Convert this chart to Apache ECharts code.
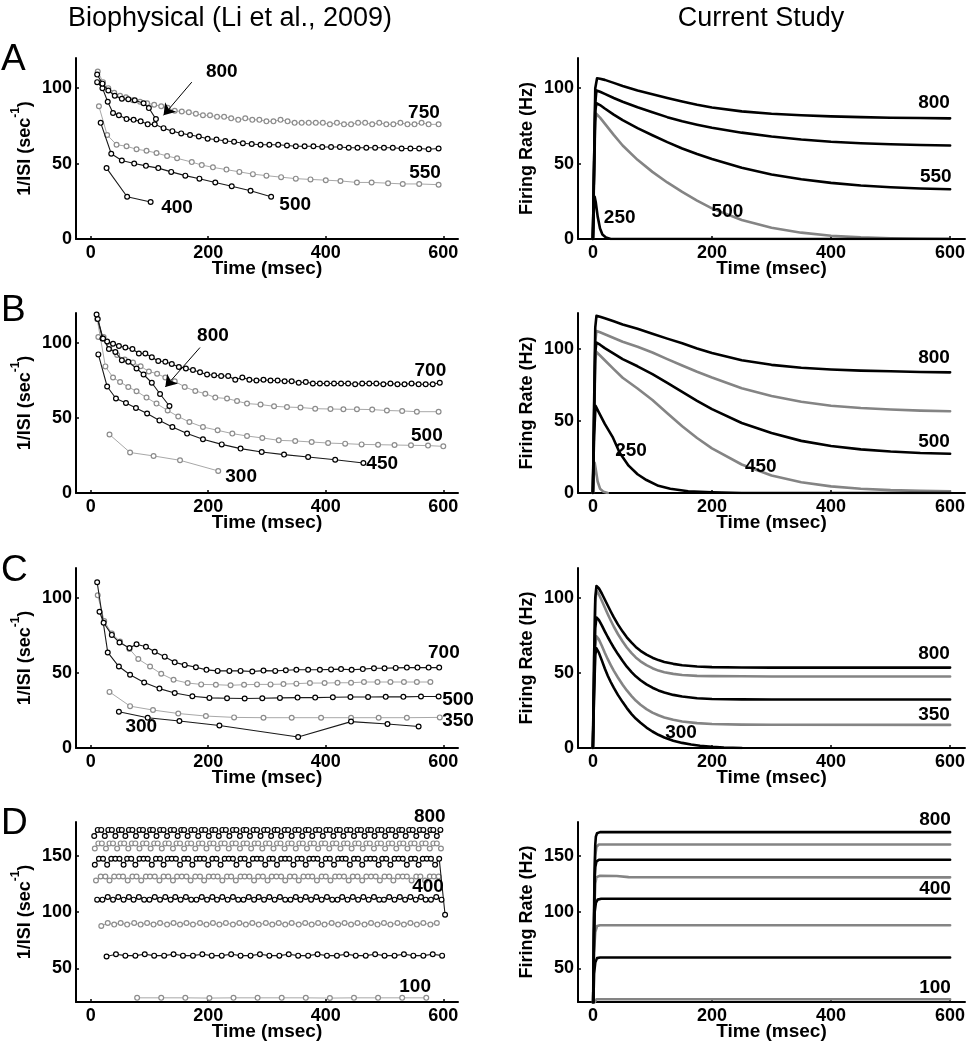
<!DOCTYPE html>
<html><head><meta charset="utf-8">
<script src="https://cdn.jsdelivr.net/npm/echarts@6.0.0/dist/echarts.min.js"></script>
<style>html,body{margin:0;padding:0;background:#fff}#c{width:967px;height:1050px}</style>
</head><body><div id="c"></div>
<script>
// ---------- tick values ----------
const X_TICKS = [0, 200, 400, 600];
const Y_TICKS = [0, 50, 100];
const D_Y_TICKS = [50, 100, 150];

// ---------- Row A, biophysical ----------
const A_L_750 = [[12,111],[21,104],[30,100],[40,97],[50,95],[60,94],[72,92],[84,91],[96,90],[108,89],[120,88],[131,87],[143,85],[155,84.5],[167,84],[179,83],[191,82],[203,82],[215,81],[227,81],[239,80],[251,79],[263,80],[275,79],[287,79],[299,78],[311,78],[323,79],[335,78],[347,77],[359,77],[371,77],[383,77],[395,77],[407,76],[419,77],[431,76],[443,76],[455,77],[467,77],[479,76],[491,77],[503,76],[515,76],[527,77],[539,76],[551,76],[563,77],[575,76],[592,76]];
const A_L_800 = [[11,109],[20,103],[30,98.5],[41,95],[53,93],[64,92.7],[75,92],[90,90],[99,86.8],[111,79.5]];
const A_L_650 = [[11,104],[20,100],[29,91],[38,83.5],[48,82],[61,79.5],[73,79],[85,78],[97,76],[109,76],[124,73.5],[139,71.5],[154,70],[169,69],[184,68],[199,66.5],[214,66],[229,65],[244,64.5],[259,63.5],[274,63],[289,62.5],[304,62.5],[319,62.5],[334,62],[349,61.5],[364,61.5],[379,61.5],[394,61],[409,61],[424,61],[439,60.5],[454,60.5],[469,60.5],[484,60.5],[499,60.5],[514,60.5],[529,60],[544,60],[559,60],[575,59.5],[592,60]];
const A_L_550 = [[14,88],[28,69],[44,62.5],[61,61.5],[78,59.5],[95,58.5],[112,57],[130,55],[147,53.5],[172,51],[189,49],[208,47.5],[231,46],[253,44.5],[276,43],[299,42],[324,41],[349,40],[374,39.5],[400,39],[425,38.5],[453,37.5],[478,37.5],[506,37],[531,36.5],[559,36.5],[592,36]];
const A_L_500 = [[17,77],[35,56.5],[53,52],[74,50],[94,48.5],[115,47],[137,44.5],[161,42],[185,40],[212,37.5],[240,35],[272,32],[307,28]];
const A_L_400 = [[27,47],[62,28],[102,24.5]];
const A_L_LABELS = [[223,110.6,'800'],[567,84,'750'],[569,43.7,'550'],[348,22.5,'500'],[147,21,'400']];
const A_L_ARROW = [[172,104],[124,82]];

// ---------- Row A, current study ----------
const A_R_800 = [[0,0],[2,50],[4,100],[7,106.6],[12,106.3],[20,105.5],[35,103.5],[50,101.5],[75,98.5],[100,96],[125,93.5],[150,91.2],[175,89],[200,87.2],[250,84.6],[300,83],[350,82],[400,81.3],[450,80.8],[500,80.4],[550,80.2],[600,80]];
const A_R_650 = [[0,0],[2,50],[4,90],[6,98.5],[12,97.6],[20,96.2],[35,93.5],[50,91],[75,87.3],[100,84],[125,80.8],[150,78],[175,75.8],[200,73.8],[250,70.5],[300,68],[350,66],[400,64.5],[450,63.5],[500,62.8],[550,62.3],[600,62]];
const A_R_550 = [[0,0],[2,45],[4,85],[6,90],[12,88.8],[20,86.5],[35,82.5],[50,78.8],[75,73.5],[100,68.8],[125,64.2],[150,60],[175,56.3],[200,53],[250,47.2],[300,42.8],[350,39.6],[400,37.2],[450,35.5],[500,34.3],[550,33.5],[600,33]];
const A_R_500 = [[0,0],[2,40],[4,78],[6,83],[12,80.5],[20,76.5],[35,69],[50,62],[75,52.5],[100,44.5],[125,37.5],[150,31.2],[175,25.4],[200,20.3],[250,12.6],[300,7.4],[350,4.2],[400,2.2],[450,1.1],[500,0.5],[550,0.15],[600,0]];
const A_R_250 = [[0,0],[1,12],[2,24],[3,28],[5,24],[8,15],[12,7],[16,3],[22,1],[30,0],[600,0]];
const A_R_LABELS = [[573,90,'800'],[576,41.5,'550'],[226,18.3,'500'],[45,14,'250']];

// ---------- Row B, biophysical ----------
const B_L_800 = [[10,119],[21,103],[31,96],[42,94],[53,88.5],[64,87.5],[78,83],[90,79],[104,73.5],[118,66],[134,58]];
const B_L_700 = [[12,116],[20,103],[28,101],[38,99.5],[48,98],[59,97],[71,96],[82,93],[93,93],[104,90.5],[115,88],[127,87.5],[138,86],[150,84],[162,83],[174,82],[186,80.5],[198,79],[210,78.5],[222,78],[234,78],[246,75.5],[258,77],[270,75.5],[282,75],[294,75.5],[306,75],[318,75],[330,74.5],[342,74.5],[354,73.5],[366,74],[378,73],[390,73],[402,73],[414,73],[426,73],[438,73],[450,72.5],[462,73],[474,73],[486,73],[498,72.5],[510,73],[522,72.5],[534,72.5],[546,73],[558,72.5],[570,72.5],[582,72.5],[594,73.5]];
const B_L_600 = [[13,104],[22,104],[32,98],[45,92],[58,89],[72,87],[85,84.5],[99,81],[113,79.5],[127,77],[143,74.5],[160,70.7],[178,68],[195,66.2],[212,63.6],[232,63],[249,61.3],[266,59.6],[289,59],[312,57.8],[334,57.3],[357,57],[382,56.2],[408,56],[430,55.8],[453,55.8],[479,55.6],[504,55],[530,54.7],[555,54.2],[592,54.2]];
const B_L_500 = [[11,116],[25,84.4],[38,77],[50,74],[64,70.7],[78,67.8],[95,63.6],[112,59.6],[131,55],[149,51],[168,47.3],[191,44],[216,41.8],[241,39.6],[266,38],[292,36.7],[320,35.1],[348,34.7],[376,34],[404,33.3],[433,32.9],[461,32.4],[489,32.2],[517,32],[545,31.8],[574,31.6],[600,31.1]];
const B_L_450 = [[13,92.4],[28,71],[43,63],[60,60],[77,56.7],[96,53],[117,48.4],[139,44],[164,39.6],[191,35.8],[223,32.4],[255,29.6],[291,27.3],[329,25.6],[370,24],[416,22.2],[464,20]];
const B_L_300 = [[32,39],[67,27],[107,24.7],[152,21.8],[217,14.7]];
const B_L_LABELS = [[208,105,'800'],[578,81.8,'700'],[572,38.4,'500'],[496,19.6,'450'],[256,10.7,'300']];
const B_L_ARROW = [[186,97],[127,70.7]];

// ---------- Row B, current study ----------
const B_R_800 = [[0,0],[2,60],[4,115],[6,123],[12,122.4],[20,121.3],[35,119.2],[50,117],[75,114],[100,110.6],[125,107.2],[150,104],[175,100.4],[200,97.2],[250,92.2],[300,89],[350,87],[400,85.8],[450,85],[500,84.5],[550,84],[600,83.8]];
const B_R_700 = [[0,0],[2,55],[4,105],[6,112.5],[12,111.6],[20,110.2],[35,107.6],[50,105],[75,101.6],[100,97.6],[125,93],[150,88.5],[175,84.2],[200,80.2],[250,72.8],[300,67.4],[350,63.4],[400,60.6],[450,59],[500,58],[550,57.2],[600,56.8]];
const B_R_500 = [[0,0],[2,50],[4,98],[6,104.5],[12,103],[20,100.6],[35,96.8],[50,93],[75,88],[100,82.6],[125,76.4],[150,70.2],[175,64],[200,58.2],[250,48.6],[300,41.6],[350,36.2],[400,32.6],[450,30.3],[500,28.8],[550,27.8],[600,27.3]];
const B_R_450 = [[0,0],[2,45],[4,92],[6,98],[12,95.5],[20,92.2],[35,86],[50,80],[75,72.6],[100,64.6],[125,55.4],[150,46.4],[175,38.2],[200,31],[250,19.8],[300,12.2],[350,7.5],[400,4.6],[450,3],[500,2],[550,1.5],[600,1.2]];
const B_R_250 = [[0,0],[2,40],[4.5,60.5],[10,56],[20,48],[33,39],[45,28],[60,19],[75,13],[90,9],[110,5],[130,3],[160,1.2],[200,0.5],[250,0],[600,0]];
const B_R_200 = [[0,0],[1.5,12],[3,21],[5,16],[8,8],[12,3],[18,0.8],[25,0]];
const B_R_LABELS = [[573,93.7,'800'],[573,35.9,'500'],[64,29,'250'],[282,18.5,'450']];

// ---------- Row C, biophysical ----------
const C_L_700 = [[15,90.8],[22,83.5],[36,75.4],[49,70.3],[66,66.6],[78,69.2],[94,67.5],[109,64.2],[126,60.9],[143,57.1],[160,55.4],[179,53.8],[197,52.1],[216,51.4],[236,51.4],[255,51.4],[275,51],[294,51.6],[314,51.4],[332,51.8],[350,52.2],[370,52.2],[390,52.2],[409,52.4],[426,52.6],[444,52.2],[463,52.6],[482,53.2],[500,53.2],[519,53.4],[538,53.6],[556,53.6],[575,53.6],[593,53.6]];
const C_L_600 = [[12,101.8],[23,84.6],[36,76.3],[50,71],[66,66],[81,59.3],[101,54.3],[120,49.5],[141,45.5],[165,43.3],[188,42.4],[213,42.2],[238,41.8],[261,42.2],[283,42.4],[306,42.4],[328,42.6],[350,42.9],[373,43.3],[398,43.3],[420,43.5],[443,43.5],[465,44],[488,44],[510,44],[533,44],[555,44],[578,44]];
const C_L_500 = [[11,110.5],[29,63.7],[48,54.3],[67,48.8],[91,43.7],[117,39.6],[143,36.7],[173,34.5],[202,33.4],[232,33.2],[262,33],[292,33.2],[322,33.4],[352,33.6],[382,33.6],[412,33.8],[442,34],[472,34],[502,34.1],[532,34.1],[562,34.3],[592,34.3]];
const C_L_350 = [[32,37.4],[67,27.9],[106,25.3],[149,23],[196,21.3],[244,20.4],[294,20.2],[342,20.2],[392,20.2],[443,20.2],[490,20.2],[538,20.2],[594,20.4]];
const C_L_300 = [[48,24.2],[97,20.2],[151,18],[219,15],[353,7.3],[443,17.6],[505,16],[558,14.3]];
const C_L_LABELS = [[601,63.3,'700'],[625,32,'500'],[625,18,'350'],[86,14.3,'300']];

// ---------- Row C, current study ----------
const C_R_800 = [[0,0],[2,60],[4,100],[6,108],[10,106.5],[15,103],[20,99],[25,95],[30,91],[35,87.2],[42,82.4],[50,77.6],[57,73.8],[65,70.2],[72,67.4],[80,64.8],[90,62.2],[100,60.2],[110,58.6],[120,57.4],[135,56.1],[150,55.2],[175,54.3],[200,53.9],[250,53.7],[300,53.6],[600,53.6]];
const C_R_700 = [[0,0],[2,55],[4,97],[6,105],[10,102.5],[15,98.2],[20,93.6],[25,89.2],[30,85],[35,81],[42,76],[50,71],[57,67],[65,63.2],[72,60.4],[80,57.8],[90,55.2],[100,53.2],[110,51.6],[120,50.5],[135,49.4],[150,48.7],[175,48.1],[200,47.9],[250,47.8],[300,47.7],[600,47.7]];
const C_R_500 = [[0,0],[2,45],[4,80],[6,87],[10,85.4],[15,81.8],[20,77.8],[25,74],[30,70.4],[35,67],[42,62.6],[50,58],[57,54.2],[65,50.6],[72,47.8],[80,45.2],[90,42.4],[100,40.2],[110,38.4],[120,37],[135,35.4],[150,34.3],[175,33.2],[200,32.7],[250,32.4],[300,32.3],[600,32.3]];
const C_R_350 = [[0,0],[2,38],[4,68],[6,74.5],[10,72.4],[15,68.2],[20,63.5],[25,59.2],[30,55.3],[35,51.6],[42,47],[50,42.2],[57,38.4],[65,34.6],[72,31.6],[80,28.8],[90,25.9],[100,23.6],[110,21.8],[120,20.4],[135,18.8],[150,17.7],[175,16.6],[200,16],[250,15.6],[300,15.5],[600,15.4]];
const C_R_300 = [[0,0],[2,35],[4,62],[6,66.5],[10,63.6],[15,58.4],[20,53],[25,48.2],[30,44],[35,40.2],[42,35.4],[50,30.6],[57,26.6],[65,22.6],[72,19.6],[80,16.8],[90,13.6],[100,11],[110,8.8],[120,7],[135,4.9],[150,3.4],[165,2.3],[180,1.5],[200,0.8],[220,0.3],[250,0]];
const C_R_LABELS = [[573,62.6,'800'],[573,22,'350'],[148,9.9,'300']];

// ---------- Row D, biophysical ----------
const D_L_800 = [[6,167.5],[12,173],[18,173],[24,167.5],[30,173],[36,173],[42,167.5],[48,173],[53,173],[59,167.5],[65,173],[71,173],[77,167.5],[83,173],[89,173],[95,167.5],[101,173],[106,173],[112,167.5],[118,173],[124,173],[130,167.5],[136,173],[142,173],[148,167.5],[154,173],[159,173],[165,167.5],[171,173],[177,173],[183,167.5],[189,173],[195,173],[201,167.5],[207,173],[212,173],[218,167.5],[224,173],[230,173],[236,167.5],[242,173],[248,173],[254,167.5],[260,173],[265,173],[271,167.5],[277,173],[283,173],[289,167.5],[295,173],[301,173],[307,167.5],[313,173],[318,173],[324,167.5],[330,173],[336,173],[342,167.5],[348,173],[354,173],[360,167.5],[366,173],[371,173],[377,167.5],[383,173],[389,173],[395,167.5],[401,173],[407,173],[413,167.5],[419,173],[424,173],[430,167.5],[436,173],[442,173],[448,167.5],[454,173],[460,173],[466,167.5],[472,173],[477,173],[483,167.5],[489,173],[495,173],[501,167.5],[507,173],[513,173],[519,167.5],[525,173],[530,173],[536,167.5],[542,173],[548,173],[554,167.5],[560,173],[566,173],[572,167.5],[578,173],[583,173],[589,167.5],[595,173]];
const D_L_700 = [[7,156.5],[13,161],[19,161],[26,156.5],[32,161],[38,161],[45,156.5],[51,161],[57,161],[64,156.5],[70,161],[76,161],[83,156.5],[89,161],[95,161],[102,156.5],[108,161],[114,161],[121,156.5],[127,161],[133,161],[140,156.5],[146,161],[152,161],[159,156.5],[165,161],[171,161],[178,156.5],[184,161],[190,161],[197,156.5],[203,161],[209,161],[216,156.5],[222,161],[228,161],[235,156.5],[241,161],[247,161],[254,156.5],[260,161],[266,161],[273,156.5],[279,161],[285,161],[292,156.5],[298,161],[304,161],[311,156.5],[317,161],[323,161],[330,156.5],[336,161],[342,161],[349,156.5],[355,161],[361,161],[368,156.5],[374,161],[380,161],[387,156.5],[393,161],[399,161],[406,156.5],[412,161],[418,161],[425,156.5],[431,161],[437,161],[444,156.5],[450,161],[456,161],[463,156.5],[469,161],[475,161],[482,156.5],[488,161],[494,161],[501,156.5],[507,161],[513,161],[520,156.5],[526,161],[532,161],[539,156.5],[545,161],[551,161],[558,156.5],[564,161],[570,161],[577,156.5],[583,161],[589,161],[596,156.5]];
const D_L_600 = [[7,142],[14,147.3],[21,147.3],[28,142],[35,147.3],[42,147.3],[49,147.3],[56,142],[62,147.3],[69,147.3],[76,142],[83,147.3],[90,147.3],[97,147.3],[104,142],[111,147.3],[118,147.3],[124,142],[131,147.3],[138,147.3],[145,147.3],[152,142],[159,147.3],[166,147.3],[173,142],[180,147.3],[186,147.3],[193,147.3],[200,142],[207,147.3],[214,147.3],[221,142],[228,147.3],[235,147.3],[242,147.3],[248,142],[255,147.3],[262,147.3],[269,142],[276,147.3],[283,147.3],[290,147.3],[297,142],[304,147.3],[310,147.3],[317,142],[324,147.3],[331,147.3],[338,147.3],[345,142],[352,147.3],[359,147.3],[366,142],[372,147.3],[379,147.3],[386,147.3],[393,142],[400,147.3],[407,147.3],[414,142],[421,147.3],[428,147.3],[434,147.3],[441,142],[448,147.3],[455,147.3],[462,142],[469,147.3],[476,147.3],[483,147.3],[490,142],[496,147.3],[503,147.3],[510,142],[517,147.3],[524,147.3],[531,147.3],[538,142],[545,147.3],[552,147.3],[558,142],[565,147.3],[572,147.3],[579,147.3],[586,142],[593,147.3],[603,97.6]];
const D_L_500 = [[9,128],[17,131.5],[25,131.5],[32,128],[40,131.5],[48,131.5],[55,131.5],[63,128],[71,131.5],[78,131.5],[86,128],[94,131.5],[101,131.5],[109,131.5],[117,128],[124,131.5],[132,131.5],[140,128],[147,131.5],[155,131.5],[163,131.5],[170,128],[178,131.5],[186,131.5],[193,128],[201,131.5],[209,131.5],[216,131.5],[224,128],[232,131.5],[239,131.5],[247,128],[255,131.5],[262,131.5],[270,131.5],[278,128],[285,131.5],[293,131.5],[301,128],[308,131.5],[316,131.5],[324,131.5],[331,128],[339,131.5],[347,131.5],[354,128],[362,131.5],[370,131.5],[377,131.5],[385,128],[393,131.5],[400,131.5],[408,128],[416,131.5],[423,131.5],[431,131.5],[439,128],[446,131.5],[454,131.5],[462,128],[469,131.5],[477,131.5],[485,131.5],[492,128],[500,131.5],[508,131.5],[515,128],[523,131.5],[531,131.5],[538,131.5],[546,128],[554,131.5],[561,131.5],[569,128],[577,131.5],[584,131.5],[592,131.5]];
const D_L_400 = [[11,111],[20,111],[29,113.3],[38,111],[47,113.3],[56,111],[65,113.3],[73,111],[82,113.3],[91,111],[100,111],[109,113.3],[118,111],[127,113.3],[136,111],[144,113.3],[153,111],[162,113.3],[171,111],[180,111],[189,113.3],[198,111],[207,113.3],[215,111],[224,113.3],[233,111],[242,113.3],[251,111],[260,111],[269,113.3],[278,111],[286,113.3],[295,111],[304,113.3],[313,111],[322,113.3],[331,111],[340,111],[349,113.3],[357,111],[366,113.3],[375,111],[384,113.3],[393,111],[402,113.3],[411,111],[420,111],[428,113.3],[437,111],[446,113.3],[455,111],[464,113.3],[473,111],[482,113.3],[491,111],[499,111],[508,113.3],[517,111],[526,113.3],[535,111],[544,113.3],[553,111],[562,113.3],[570,111],[579,111],[588,113.3],[597,111]];
const D_L_300 = [[18,87.5],[29,90.2],[40,88.8],[51,90.2],[62,88.8],[74,90.2],[85,88.8],[96,90.2],[107,88.8],[118,90.2],[130,88.8],[141,90.2],[152,88.8],[163,90.2],[174,88.8],[186,90.2],[197,88.8],[208,90.2],[219,88.8],[230,90.2],[242,88.8],[253,90.2],[264,88.8],[275,90.2],[286,88.8],[298,90.2],[309,88.8],[320,90.2],[331,88.8],[342,90.2],[354,88.8],[365,90.2],[376,88.8],[387,90.2],[398,88.8],[410,90.2],[421,88.8],[432,90.2],[443,88.8],[454,90.2],[466,88.8],[477,90.2],[488,88.8],[499,90.2],[510,88.8],[522,90.2],[533,88.8],[544,90.2],[555,88.8],[566,90.2],[578,88.8],[589,90.2]];
const D_L_200 = [[27,60.5],[43,62.4],[59,61.2],[76,61.2],[92,62.4],[108,61.2],[125,61.2],[141,62.4],[157,61.2],[174,61.2],[190,62.4],[206,61.2],[223,61.2],[239,62.4],[255,61.2],[272,61.2],[288,62.4],[304,61.2],[321,61.2],[337,62.4],[353,61.2],[370,61.2],[386,62.4],[402,61.2],[419,61.2],[435,62.4],[451,61.2],[468,61.2],[484,62.4],[500,61.2],[517,61.2],[533,62.4],[549,61.2],[566,61.2],[582,62.4],[598,61.2]];
const D_L_100 = [[79,23.7],[120,23.7],[161,23.7],[202,23.5],[243,23.7],[284,23.7],[325,23.7],[366,23.7],[407,23.5],[448,23.7],[489,23.7],[530,23.7],[571,23.7]];
const D_L_LABELS = [[577,184.7,'800'],[574,122.5,'400'],[552,33.6,'100']];

// ---------- Row D, current study ----------
const D_R_800 = [[0,0],[2,90],[3,140],[4,160],[5,167],[7,170],[12,171],[600,171]];
const D_R_700 = [[0,0],[2,110],[4,150],[6,158],[10,160],[600,160]];
const D_R_600 = [[0,0],[2,90],[3,130],[4,140],[6,145],[10,146.4],[600,146.4]];
const D_R_500 = [[0,0],[2,95],[4,125],[6,131],[12,132.2],[40,132],[60,131],[600,130.8]];
const D_R_400 = [[0,0],[2,80],[3,100],[5,108],[8,111],[14,111.8],[600,111.8]];
const D_R_300 = [[0,0],[2,65],[4,82],[7,87.5],[12,88.2],[600,88.2]];
const D_R_200 = [[0,0],[2,45],[4,55],[7,59],[12,59.5],[600,59.5]];
const D_R_100 = [[0,0],[3,20],[6,22.5],[600,22.5]];
const D_R_LABELS = [[574.6,181.8,'800'],[574.6,121,'400'],[574.6,33,'100']];

// ---------- layout ----------
const FONT = '"Liberation Sans", Arial, Helvetica, sans-serif';
const GRIDS = [
  {left:76, top:58, width:382, height:181},
  {left:578, top:58, width:387, height:181},
  {left:76, top:313, width:382, height:180},
  {left:578, top:313, width:387, height:180},
  {left:76, top:568, width:382, height:180},
  {left:578, top:568, width:387, height:180},
  {left:76, top:822, width:382, height:180},
  {left:578, top:822, width:387, height:180}
];
const Y_RANGES = [[0,120],[0,120],[0,120],[0,125],[0,120],[0,120],[20,180],[20,180]];

const grid = GRIDS.map(g => Object.assign({containLabel:false, outerBoundsMode:'none'}, g));
const xAxis = GRIDS.map((g, i) => ({
  type:'value', gridIndex:i, min:-25, max:625,
  axisLine:{show:true, onZero:false, lineStyle:{color:'#000', width:2}},
  axisTick:{show:true, inside:true, length:3, customValues:X_TICKS, lineStyle:{color:'#000', width:1.5}},
  axisLabel:{show:true, customValues:X_TICKS, margin:5, color:'#000', fontSize:18, fontWeight:'bold', fontFamily:FONT},
  splitLine:{show:false},
  name:'Time (msec)', nameLocation:'middle', nameGap:20, nameMoveOverlap:false,
  nameTextStyle:{color:'#000', fontSize:19, fontWeight:'bold', fontFamily:FONT}
}));
const yAxis = GRIDS.map((g, i) => {
  const left = i % 2 === 0;
  const ticks = i >= 6 ? D_Y_TICKS : Y_TICKS;
  return {
    type:'value', gridIndex:i, min:Y_RANGES[i][0], max:Y_RANGES[i][1],
    axisLine:{show:true, onZero:false, lineStyle:{color:'#000', width:2}},
    axisTick:{show:true, inside:true, length:3, customValues:ticks, lineStyle:{color:'#000', width:1.5}},
    axisLabel:{show:true, customValues:ticks, margin:4, color:'#000', fontSize:18, fontWeight:'bold', fontFamily:FONT},
    splitLine:{show:false},
    name: left ? '{n|1/ISI (sec}{s|-1}{n|)}' : '{n|Firing Rate (Hz)}',
    nameLocation:'middle', nameGap:42, nameRotate:90, nameMoveOverlap:false,
    nameTextStyle:{rich:{
      n:{fontSize:18, fontWeight:'bold', fontFamily:FONT, color:'#000', lineHeight:24, verticalAlign:'bottom'},
      s:{fontSize:12, fontWeight:'bold', fontFamily:FONT, color:'#000', lineHeight:14, verticalAlign:'top'}
    }}
  };
});

function spikes(g, data, gray) {
  return {type:'line', xAxisIndex:g, yAxisIndex:g, data:data, symbol:'circle', symbolSize:4.8,
    showSymbol:true, showAllSymbol:true, silent:true, clip:false, z: gray ? 2 : 3,
    lineStyle:{color: gray ? '#a8a8a8' : '#1a1a1a', width: gray ? 1 : 1.1},
    itemStyle:{color:'#fff', borderColor: gray ? '#8c8c8c' : '#000', borderWidth:1.2}};
}
function rate(g, data, gray) {
  return {type:'line', xAxisIndex:g, yAxisIndex:g, data:data, symbol:'none', showSymbol:false,
    smooth:false, silent:true, z: gray ? 2 : 3,
    lineStyle:{color: gray ? '#848484' : '#000', width:2.6, join:'round', cap:'round'}};
}
function labels(g, data, arrow) {
  const s = {type:'scatter', xAxisIndex:g, yAxisIndex:g, data:data, symbol:'circle', symbolSize:0,
    clip:false, silent:true, z:6, itemStyle:{color:'#000', opacity:1},
    label:{show:true, position:'inside', formatter:p => p.data[2], color:'#000', opacity:1,
      textBorderWidth:0, fontSize:19, fontWeight:'bold', fontFamily:FONT}};
  if (arrow) {
    s.markLine = {silent:true, symbol:['none','arrow'], symbolSize:11, animation:false,
      label:{show:false}, lineStyle:{color:'#000', width:1, type:'solid', opacity:1},
      data:[[{coord:arrow[0]},{coord:arrow[1]}]]};
  }
  return s;
}

const series = [
  spikes(0, A_L_750, true), spikes(0, A_L_550, true),
  spikes(0, A_L_650, false), spikes(0, A_L_800, false), spikes(0, A_L_500, false), spikes(0, A_L_400, false),
  labels(0, A_L_LABELS, A_L_ARROW),
  rate(1, A_R_500, true), rate(1, A_R_800, false), rate(1, A_R_650, false), rate(1, A_R_550, false), rate(1, A_R_250, false),
  labels(1, A_R_LABELS),
  spikes(2, B_L_600, true), spikes(2, B_L_500, true), spikes(2, B_L_300, true),
  spikes(2, B_L_700, false), spikes(2, B_L_800, false), spikes(2, B_L_450, false),
  labels(2, B_L_LABELS, B_L_ARROW),
  rate(3, B_R_700, true), rate(3, B_R_450, true), rate(3, B_R_200, true),
  rate(3, B_R_800, false), rate(3, B_R_500, false), rate(3, B_R_250, false),
  labels(3, B_R_LABELS),
  spikes(4, C_L_600, true), spikes(4, C_L_350, true),
  spikes(4, C_L_700, false), spikes(4, C_L_500, false), spikes(4, C_L_300, false),
  labels(4, C_L_LABELS),
  rate(5, C_R_700, true), rate(5, C_R_350, true),
  rate(5, C_R_800, false), rate(5, C_R_500, false), rate(5, C_R_300, false),
  labels(5, C_R_LABELS),
  spikes(6, D_L_700, true), spikes(6, D_L_500, true), spikes(6, D_L_300, true), spikes(6, D_L_100, true),
  spikes(6, D_L_800, false), spikes(6, D_L_600, false), spikes(6, D_L_400, false), spikes(6, D_L_200, false),
  labels(6, D_L_LABELS),
  rate(7, D_R_700, true), rate(7, D_R_500, true), rate(7, D_R_300, true), rate(7, D_R_100, true),
  rate(7, D_R_800, false), rate(7, D_R_600, false), rate(7, D_R_400, false), rate(7, D_R_200, false),
  labels(7, D_R_LABELS)
];

function txt(text, x, y, size, align) {
  return {type:'text', silent:true, style:{text:text, x:x, y:y, fill:'#000', fontSize:size,
    fontFamily:FONT, fontWeight:'normal', align:align, verticalAlign:'middle'}};
}
const graphic = [
  txt('Biophysical (Li et al., 2009)', 230, 19, 27, 'center'),
  txt('Current Study', 761, 19, 27, 'center'),
  txt('A', 1, 60, 37, 'left'),
  txt('B', 1, 311, 37, 'left'),
  txt('C', 1, 571, 37, 'left'),
  txt('D', 1, 824, 37, 'left')
];

const chart = echarts.init(document.getElementById('c'), null, {renderer:'canvas'});
chart.setOption({animation:false, backgroundColor:'#fff', grid, xAxis, yAxis, series, graphic});
</script></body></html>
